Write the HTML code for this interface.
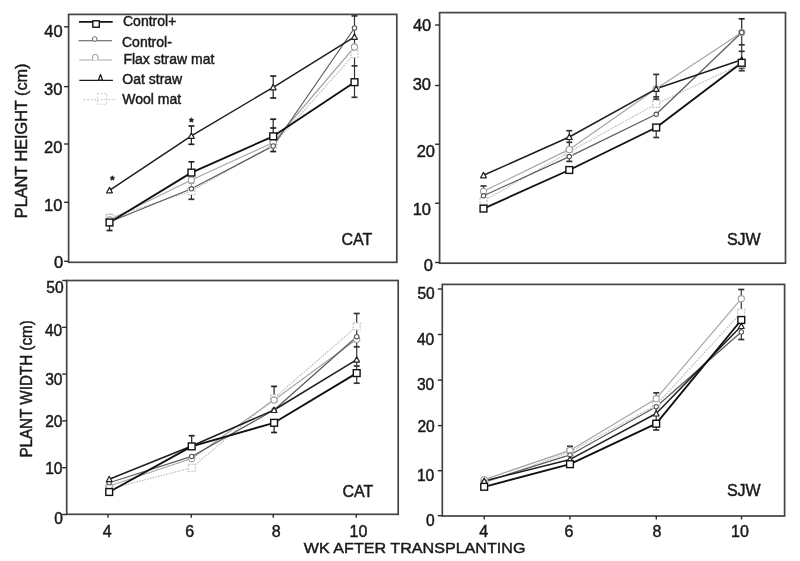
<!DOCTYPE html><html><head><meta charset="utf-8"><title>Plant height and width</title><style>html,body{margin:0;padding:0;background:#fff;}svg{display:block;} text{stroke:#1a1a1a;stroke-width:0.45px;}</style></head><body>
<svg width="800" height="561" viewBox="0 0 800 561" font-family='"Liberation Sans", Arial, Helvetica, sans-serif' fill="#1a1a1a">
<rect x="0" y="0" width="800" height="561" fill="#fff"/>
<g><polyline points="109.5,218.0 191.4,191.0 273.2,145.0 354.5,54.0" fill="none" stroke="#bdbdbd" stroke-width="1.2" stroke-dasharray="1.6,1.2" stroke-linejoin="round"/><polyline points="109.5,220.0 191.4,180.0 273.2,142.5 354.5,47.0" fill="none" stroke="#a6a6a6" stroke-width="1.2" stroke-linejoin="round"/><polyline points="109.5,222.0 191.4,188.8 273.2,146.0 354.5,28.0" fill="none" stroke="#5a5a5a" stroke-width="1.2" stroke-linejoin="round"/><polyline points="109.5,190.3 191.4,135.8 273.2,87.3 354.5,36.8" fill="none" stroke="#1e1e1e" stroke-width="1.5" stroke-linejoin="round"/><polyline points="109.5,222.5 191.4,172.6 273.2,136.3 354.5,82.2" fill="none" stroke="#111111" stroke-width="1.9" stroke-linejoin="round"/><line x1="109.5" y1="222.5" x2="109.5" y2="230.5" stroke="#222" stroke-width="1.2"/><line x1="106.5" y1="230.5" x2="112.5" y2="230.5" stroke="#222" stroke-width="1.7"/><line x1="109.5" y1="214.5" x2="109.5" y2="218.0" stroke="#bbb" stroke-width="1.2"/><line x1="106.5" y1="214.5" x2="112.5" y2="214.5" stroke="#bbb" stroke-width="1.7"/><line x1="191.4" y1="126.0" x2="191.4" y2="144.3" stroke="#222" stroke-width="1.2"/><line x1="188.4" y1="126.0" x2="194.4" y2="126.0" stroke="#222" stroke-width="1.7"/><line x1="188.4" y1="144.3" x2="194.4" y2="144.3" stroke="#222" stroke-width="1.7"/><line x1="191.4" y1="161.8" x2="191.4" y2="172.5" stroke="#222" stroke-width="1.2"/><line x1="188.4" y1="161.8" x2="194.4" y2="161.8" stroke="#222" stroke-width="1.7"/><line x1="191.4" y1="183.2" x2="191.4" y2="186.0" stroke="#aaa" stroke-width="1.2"/><line x1="188.4" y1="183.2" x2="194.4" y2="183.2" stroke="#aaa" stroke-width="1.7"/><line x1="191.4" y1="190.0" x2="191.4" y2="199.3" stroke="#333" stroke-width="1.2"/><line x1="188.4" y1="199.3" x2="194.4" y2="199.3" stroke="#333" stroke-width="1.7"/><line x1="273.2" y1="76.0" x2="273.2" y2="98.0" stroke="#222" stroke-width="1.2"/><line x1="270.2" y1="76.0" x2="276.2" y2="76.0" stroke="#222" stroke-width="1.7"/><line x1="270.2" y1="98.0" x2="276.2" y2="98.0" stroke="#222" stroke-width="1.7"/><line x1="273.2" y1="119.2" x2="273.2" y2="136.2" stroke="#222" stroke-width="1.2"/><line x1="270.2" y1="119.2" x2="276.2" y2="119.2" stroke="#222" stroke-width="1.7"/><line x1="270.2" y1="128.0" x2="276.2" y2="128.0" stroke="#222" stroke-width="1.7"/><line x1="273.2" y1="146.0" x2="273.2" y2="152.3" stroke="#222" stroke-width="1.2"/><line x1="270.2" y1="151.5" x2="276.2" y2="151.5" stroke="#222" stroke-width="1.7"/><line x1="354.5" y1="15.9" x2="354.5" y2="97.3" stroke="#333" stroke-width="1.2"/><line x1="351.5" y1="15.9" x2="357.5" y2="15.9" stroke="#333" stroke-width="1.7"/><line x1="351.5" y1="56.1" x2="357.5" y2="56.1" stroke="#333" stroke-width="1.7"/><line x1="351.5" y1="65.9" x2="357.5" y2="65.9" stroke="#333" stroke-width="1.7"/><line x1="351.5" y1="97.3" x2="357.5" y2="97.3" stroke="#333" stroke-width="1.7"/><rect x="106.0" y="214.5" width="7" height="7" fill="#fff" stroke="#c0c0c0" stroke-width="1.1" stroke-dasharray="2,1.2"/><rect x="187.9" y="187.5" width="7" height="7" fill="#fff" stroke="#c0c0c0" stroke-width="1.1" stroke-dasharray="2,1.2"/><rect x="269.7" y="141.5" width="7" height="7" fill="#fff" stroke="#c0c0c0" stroke-width="1.1" stroke-dasharray="2,1.2"/><rect x="351.0" y="50.5" width="7" height="7" fill="#fff" stroke="#c0c0c0" stroke-width="1.1" stroke-dasharray="2,1.2"/><circle cx="109.5" cy="220.0" r="3.1" fill="#fff" stroke="#a0a0a0" stroke-width="1.1"/><circle cx="191.4" cy="180.0" r="3.1" fill="#fff" stroke="#a0a0a0" stroke-width="1.1"/><circle cx="273.2" cy="142.5" r="3.1" fill="#fff" stroke="#a0a0a0" stroke-width="1.1"/><circle cx="354.5" cy="47.0" r="3.1" fill="#fff" stroke="#a0a0a0" stroke-width="1.1"/><circle cx="109.5" cy="222.0" r="2.2" fill="#fff" stroke="#555" stroke-width="1.1"/><circle cx="191.4" cy="188.8" r="2.2" fill="#fff" stroke="#555" stroke-width="1.1"/><circle cx="273.2" cy="146.0" r="2.2" fill="#fff" stroke="#555" stroke-width="1.1"/><circle cx="354.5" cy="28.0" r="2.2" fill="#fff" stroke="#555" stroke-width="1.1"/><path d="M109.5,187.4 L112.4,192.8 L106.6,192.8 Z" fill="#fff" stroke="#222" stroke-width="1.2" stroke-linejoin="round"/><path d="M191.4,132.9 L194.3,138.3 L188.5,138.3 Z" fill="#fff" stroke="#222" stroke-width="1.2" stroke-linejoin="round"/><path d="M273.2,84.4 L276.1,89.8 L270.3,89.8 Z" fill="#fff" stroke="#222" stroke-width="1.2" stroke-linejoin="round"/><path d="M354.5,33.9 L357.4,39.3 L351.6,39.3 Z" fill="#fff" stroke="#222" stroke-width="1.2" stroke-linejoin="round"/><rect x="106.1" y="219.1" width="6.8" height="6.8" fill="#fff" stroke="#111" stroke-width="1.4"/><rect x="188.0" y="169.2" width="6.8" height="6.8" fill="#fff" stroke="#111" stroke-width="1.4"/><rect x="269.8" y="132.9" width="6.8" height="6.8" fill="#fff" stroke="#111" stroke-width="1.4"/><rect x="351.1" y="78.8" width="6.8" height="6.8" fill="#fff" stroke="#111" stroke-width="1.4"/><rect x="68.6" y="14.4" width="328.2" height="247.9" fill="none" stroke="#444" stroke-width="1.7"/><line x1="64.1" y1="26.8" x2="68.6" y2="26.8" stroke="#2a2a2a" stroke-width="1.4"/><text x="62.7" y="36.9" font-size="16.5" text-anchor="end">40</text><line x1="64.1" y1="86.6" x2="68.6" y2="86.6" stroke="#2a2a2a" stroke-width="1.4"/><text x="62.4" y="95.4" font-size="16.5" text-anchor="end">30</text><line x1="64.1" y1="144.0" x2="68.6" y2="144.0" stroke="#2a2a2a" stroke-width="1.4"/><text x="62.4" y="152.9" font-size="16.5" text-anchor="end">20</text><line x1="64.1" y1="202.3" x2="68.6" y2="202.3" stroke="#2a2a2a" stroke-width="1.4"/><text x="62.4" y="211.2" font-size="16.5" text-anchor="end">10</text><line x1="64.1" y1="261.3" x2="68.6" y2="261.3" stroke="#2a2a2a" stroke-width="1.4"/><text x="63.1" y="267.5" font-size="16.5" text-anchor="end">0</text><text x="341.5" y="245.0" font-size="16">CAT</text><text x="112.4" y="184.4" font-size="11" font-weight="bold" text-anchor="middle">*</text><text x="191.4" y="126.4" font-size="11" font-weight="bold" text-anchor="middle">*</text></g>
<g><polyline points="483.5,201.0 569.3,152.0 656.2,103.9 741.7,64.0" fill="none" stroke="#bdbdbd" stroke-width="1.2" stroke-dasharray="1.6,1.2" stroke-linejoin="round"/><polyline points="483.5,191.3 569.3,149.4 656.2,88.8 741.7,32.5" fill="none" stroke="#a6a6a6" stroke-width="1.2" stroke-linejoin="round"/><polyline points="483.5,195.8 569.3,156.6 656.2,114.3 741.7,32.5" fill="none" stroke="#5a5a5a" stroke-width="1.2" stroke-linejoin="round"/><polyline points="483.5,175.3 569.3,137.0 656.2,88.8 741.7,59.8" fill="none" stroke="#1e1e1e" stroke-width="1.5" stroke-linejoin="round"/><polyline points="483.5,208.6 569.3,170.0 656.2,127.5 741.7,62.8" fill="none" stroke="#111111" stroke-width="1.9" stroke-linejoin="round"/><line x1="483.5" y1="186.0" x2="483.5" y2="191.0" stroke="#333" stroke-width="1.2"/><line x1="480.5" y1="186.0" x2="486.5" y2="186.0" stroke="#333" stroke-width="1.7"/><line x1="569.3" y1="130.7" x2="569.3" y2="137.0" stroke="#333" stroke-width="1.2"/><line x1="566.3" y1="130.7" x2="572.3" y2="130.7" stroke="#333" stroke-width="1.7"/><line x1="569.3" y1="137.0" x2="569.3" y2="161.4" stroke="#333" stroke-width="1.2"/><line x1="566.3" y1="142.3" x2="572.3" y2="142.3" stroke="#333" stroke-width="1.7"/><line x1="566.3" y1="161.4" x2="572.3" y2="161.4" stroke="#333" stroke-width="1.7"/><line x1="656.2" y1="74.4" x2="656.2" y2="88.8" stroke="#333" stroke-width="1.2"/><line x1="653.2" y1="74.4" x2="659.2" y2="74.4" stroke="#333" stroke-width="1.7"/><line x1="656.2" y1="88.8" x2="656.2" y2="100.0" stroke="#333" stroke-width="1.2"/><line x1="653.2" y1="96.9" x2="659.2" y2="96.9" stroke="#333" stroke-width="1.7"/><line x1="653.2" y1="99.2" x2="659.2" y2="99.2" stroke="#333" stroke-width="1.7"/><line x1="656.2" y1="127.5" x2="656.2" y2="137.5" stroke="#333" stroke-width="1.2"/><line x1="653.2" y1="137.5" x2="659.2" y2="137.5" stroke="#333" stroke-width="1.7"/><line x1="741.7" y1="18.8" x2="741.7" y2="32.5" stroke="#222" stroke-width="1.2"/><line x1="738.7" y1="18.8" x2="744.7" y2="18.8" stroke="#222" stroke-width="1.7"/><line x1="741.7" y1="32.5" x2="741.7" y2="70.7" stroke="#333" stroke-width="1.2"/><line x1="738.7" y1="44.8" x2="744.7" y2="44.8" stroke="#333" stroke-width="1.7"/><line x1="738.7" y1="51.3" x2="744.7" y2="51.3" stroke="#333" stroke-width="1.7"/><line x1="738.7" y1="68.0" x2="744.7" y2="68.0" stroke="#333" stroke-width="1.7"/><line x1="738.7" y1="70.7" x2="744.7" y2="70.7" stroke="#333" stroke-width="1.7"/><rect x="480.0" y="197.5" width="7" height="7" fill="#fff" stroke="#c0c0c0" stroke-width="1.1" stroke-dasharray="2,1.2"/><rect x="565.8" y="148.5" width="7" height="7" fill="#fff" stroke="#c0c0c0" stroke-width="1.1" stroke-dasharray="2,1.2"/><rect x="652.7" y="100.4" width="7" height="7" fill="#fff" stroke="#c0c0c0" stroke-width="1.1" stroke-dasharray="2,1.2"/><rect x="738.2" y="60.5" width="7" height="7" fill="#fff" stroke="#c0c0c0" stroke-width="1.1" stroke-dasharray="2,1.2"/><circle cx="483.5" cy="191.3" r="3.1" fill="#fff" stroke="#a0a0a0" stroke-width="1.1"/><circle cx="569.3" cy="149.4" r="3.1" fill="#fff" stroke="#a0a0a0" stroke-width="1.1"/><circle cx="656.2" cy="88.8" r="3.1" fill="#fff" stroke="#a0a0a0" stroke-width="1.1"/><circle cx="741.7" cy="32.5" r="3.1" fill="#fff" stroke="#a0a0a0" stroke-width="1.1"/><circle cx="483.5" cy="195.8" r="2.2" fill="#fff" stroke="#555" stroke-width="1.1"/><circle cx="569.3" cy="156.6" r="2.2" fill="#fff" stroke="#555" stroke-width="1.1"/><circle cx="656.2" cy="114.3" r="2.2" fill="#fff" stroke="#555" stroke-width="1.1"/><circle cx="741.7" cy="32.5" r="2.2" fill="#fff" stroke="#555" stroke-width="1.1"/><path d="M483.5,172.4 L486.4,177.8 L480.6,177.8 Z" fill="#fff" stroke="#222" stroke-width="1.2" stroke-linejoin="round"/><path d="M569.3,134.1 L572.2,139.5 L566.4,139.5 Z" fill="#fff" stroke="#222" stroke-width="1.2" stroke-linejoin="round"/><path d="M656.2,85.9 L659.1,91.3 L653.3,91.3 Z" fill="#fff" stroke="#222" stroke-width="1.2" stroke-linejoin="round"/><path d="M741.7,56.9 L744.6,62.3 L738.8,62.3 Z" fill="#fff" stroke="#222" stroke-width="1.2" stroke-linejoin="round"/><rect x="480.1" y="205.2" width="6.8" height="6.8" fill="#fff" stroke="#111" stroke-width="1.4"/><rect x="565.9" y="166.6" width="6.8" height="6.8" fill="#fff" stroke="#111" stroke-width="1.4"/><rect x="652.8" y="124.1" width="6.8" height="6.8" fill="#fff" stroke="#111" stroke-width="1.4"/><rect x="738.3" y="59.4" width="6.8" height="6.8" fill="#fff" stroke="#111" stroke-width="1.4"/><rect x="439.6" y="12.6" width="345.9" height="250.6" fill="none" stroke="#444" stroke-width="1.7"/><line x1="435.1" y1="25.0" x2="439.6" y2="25.0" stroke="#2a2a2a" stroke-width="1.4"/><text x="431.3" y="30.5" font-size="16.5" text-anchor="end">40</text><line x1="435.1" y1="85.5" x2="439.6" y2="85.5" stroke="#2a2a2a" stroke-width="1.4"/><text x="431.0" y="90.0" font-size="16.5" text-anchor="end">30</text><line x1="435.1" y1="144.25" x2="439.6" y2="144.25" stroke="#2a2a2a" stroke-width="1.4"/><text x="435.0" y="157.0" font-size="16.5" text-anchor="end">20</text><line x1="435.1" y1="203.25" x2="439.6" y2="203.25" stroke="#2a2a2a" stroke-width="1.4"/><text x="431.0" y="215.0" font-size="16.5" text-anchor="end">10</text><line x1="435.1" y1="262.5" x2="439.6" y2="262.5" stroke="#2a2a2a" stroke-width="1.4"/><text x="433.0" y="271.0" font-size="16.5" text-anchor="end">0</text><text x="726.9" y="245.0" font-size="16">SJW</text></g>
<g><polyline points="109.2,489.0 191.7,467.8 274.1,398.2 356.7,326.4" fill="none" stroke="#bdbdbd" stroke-width="1.2" stroke-dasharray="1.6,1.2" stroke-linejoin="round"/><polyline points="109.2,486.0 191.7,458.5 274.1,400.0 356.7,339.3" fill="none" stroke="#a6a6a6" stroke-width="1.2" stroke-linejoin="round"/><polyline points="109.2,482.8 191.7,456.4 274.1,410.0 356.7,336.7" fill="none" stroke="#5a5a5a" stroke-width="1.2" stroke-linejoin="round"/><polyline points="109.2,479.2 191.7,446.0 274.1,410.0 356.7,359.6" fill="none" stroke="#1e1e1e" stroke-width="1.5" stroke-linejoin="round"/><polyline points="109.2,492.0 191.7,446.4 274.1,422.8 356.7,373.1" fill="none" stroke="#111111" stroke-width="1.9" stroke-linejoin="round"/><line x1="191.7" y1="435.7" x2="191.7" y2="446.4" stroke="#222" stroke-width="1.2"/><line x1="188.7" y1="435.7" x2="194.7" y2="435.7" stroke="#222" stroke-width="1.7"/><line x1="274.1" y1="386.4" x2="274.1" y2="398.2" stroke="#222" stroke-width="1.2"/><line x1="271.1" y1="386.4" x2="277.1" y2="386.4" stroke="#222" stroke-width="1.7"/><line x1="274.1" y1="422.8" x2="274.1" y2="432.5" stroke="#222" stroke-width="1.2"/><line x1="271.1" y1="432.5" x2="277.1" y2="432.5" stroke="#222" stroke-width="1.7"/><line x1="356.7" y1="313.5" x2="356.7" y2="383.2" stroke="#333" stroke-width="1.2"/><line x1="353.7" y1="313.5" x2="359.7" y2="313.5" stroke="#333" stroke-width="1.7"/><line x1="353.7" y1="346.8" x2="359.7" y2="346.8" stroke="#333" stroke-width="1.7"/><line x1="353.7" y1="366.0" x2="359.7" y2="366.0" stroke="#333" stroke-width="1.7"/><line x1="353.7" y1="383.2" x2="359.7" y2="383.2" stroke="#333" stroke-width="1.7"/><rect x="105.7" y="485.5" width="7" height="7" fill="#fff" stroke="#c0c0c0" stroke-width="1.1" stroke-dasharray="2,1.2"/><rect x="188.2" y="464.3" width="7" height="7" fill="#fff" stroke="#c0c0c0" stroke-width="1.1" stroke-dasharray="2,1.2"/><rect x="270.6" y="394.7" width="7" height="7" fill="#fff" stroke="#c0c0c0" stroke-width="1.1" stroke-dasharray="2,1.2"/><rect x="353.2" y="322.9" width="7" height="7" fill="#fff" stroke="#c0c0c0" stroke-width="1.1" stroke-dasharray="2,1.2"/><circle cx="109.2" cy="486.0" r="3.1" fill="#fff" stroke="#a0a0a0" stroke-width="1.1"/><circle cx="191.7" cy="458.5" r="3.1" fill="#fff" stroke="#a0a0a0" stroke-width="1.1"/><circle cx="274.1" cy="400.0" r="3.1" fill="#fff" stroke="#a0a0a0" stroke-width="1.1"/><circle cx="356.7" cy="339.3" r="3.1" fill="#fff" stroke="#a0a0a0" stroke-width="1.1"/><circle cx="109.2" cy="482.8" r="2.2" fill="#fff" stroke="#555" stroke-width="1.1"/><circle cx="191.7" cy="456.4" r="2.2" fill="#fff" stroke="#555" stroke-width="1.1"/><circle cx="274.1" cy="410.0" r="2.2" fill="#fff" stroke="#555" stroke-width="1.1"/><circle cx="356.7" cy="336.7" r="2.2" fill="#fff" stroke="#555" stroke-width="1.1"/><path d="M109.2,476.3 L112.1,481.7 L106.3,481.7 Z" fill="#fff" stroke="#222" stroke-width="1.2" stroke-linejoin="round"/><path d="M191.7,443.1 L194.6,448.5 L188.8,448.5 Z" fill="#fff" stroke="#222" stroke-width="1.2" stroke-linejoin="round"/><path d="M274.1,407.1 L277.0,412.5 L271.2,412.5 Z" fill="#fff" stroke="#222" stroke-width="1.2" stroke-linejoin="round"/><path d="M356.7,356.7 L359.6,362.1 L353.8,362.1 Z" fill="#fff" stroke="#222" stroke-width="1.2" stroke-linejoin="round"/><rect x="105.8" y="488.6" width="6.8" height="6.8" fill="#fff" stroke="#111" stroke-width="1.4"/><rect x="188.3" y="443.0" width="6.8" height="6.8" fill="#fff" stroke="#111" stroke-width="1.4"/><rect x="270.7" y="419.4" width="6.8" height="6.8" fill="#fff" stroke="#111" stroke-width="1.4"/><rect x="353.3" y="369.7" width="6.8" height="6.8" fill="#fff" stroke="#111" stroke-width="1.4"/><rect x="66.7" y="280.5" width="331.5" height="233.8" fill="none" stroke="#444" stroke-width="1.7"/><line x1="62.2" y1="280.5" x2="66.7" y2="280.5" stroke="#2a2a2a" stroke-width="1.4"/><text x="63.6" y="292.7" font-size="15.6" text-anchor="end">50</text><line x1="62.2" y1="327.3" x2="66.7" y2="327.3" stroke="#2a2a2a" stroke-width="1.4"/><text x="62.3" y="335.6" font-size="15.6" text-anchor="end">40</text><line x1="62.2" y1="374.1" x2="66.7" y2="374.1" stroke="#2a2a2a" stroke-width="1.4"/><text x="62.5" y="384.8" font-size="15.6" text-anchor="end">30</text><line x1="62.2" y1="420.9" x2="66.7" y2="420.9" stroke="#2a2a2a" stroke-width="1.4"/><text x="62.5" y="427.1" font-size="15.6" text-anchor="end">20</text><line x1="62.2" y1="467.7" x2="66.7" y2="467.7" stroke="#2a2a2a" stroke-width="1.4"/><text x="62.5" y="473.5" font-size="15.6" text-anchor="end">10</text><line x1="62.2" y1="514.5" x2="66.7" y2="514.5" stroke="#2a2a2a" stroke-width="1.4"/><text x="63.0" y="523.8" font-size="15.6" text-anchor="end">0</text><line x1="108.0" y1="514.3" x2="108.0" y2="517.8" stroke="#2a2a2a" stroke-width="1.4"/><text x="107.3" y="537" font-size="16" text-anchor="middle">4</text><line x1="191.25" y1="514.3" x2="191.25" y2="517.8" stroke="#2a2a2a" stroke-width="1.4"/><text x="189.8" y="537" font-size="16" text-anchor="middle">6</text><line x1="273.25" y1="514.3" x2="273.25" y2="517.8" stroke="#2a2a2a" stroke-width="1.4"/><text x="276.3" y="537" font-size="16" text-anchor="middle">8</text><line x1="356.25" y1="514.3" x2="356.25" y2="517.8" stroke="#2a2a2a" stroke-width="1.4"/><text x="358.5" y="537" font-size="16" text-anchor="middle">10</text><text x="342.4" y="496.7" font-size="16">CAT</text></g>
<g><polyline points="484.2,483.0 570.0,452.0 656.2,405.0 741.3,312.5" fill="none" stroke="#bdbdbd" stroke-width="1.2" stroke-dasharray="1.6,1.2" stroke-linejoin="round"/><polyline points="484.2,479.6 570.0,450.4 656.2,398.7 741.3,298.7" fill="none" stroke="#a6a6a6" stroke-width="1.2" stroke-linejoin="round"/><polyline points="484.2,482.0 570.0,454.9 656.2,406.7 741.3,332.0" fill="none" stroke="#5a5a5a" stroke-width="1.2" stroke-linejoin="round"/><polyline points="484.2,481.0 570.0,459.4 656.2,413.5 741.3,326.0" fill="none" stroke="#1e1e1e" stroke-width="1.5" stroke-linejoin="round"/><polyline points="484.2,486.8 570.0,464.2 656.2,423.7 741.3,320.0" fill="none" stroke="#111111" stroke-width="1.9" stroke-linejoin="round"/><line x1="570.0" y1="446.3" x2="570.0" y2="450.4" stroke="#333" stroke-width="1.2"/><line x1="567.0" y1="446.3" x2="573.0" y2="446.3" stroke="#333" stroke-width="1.7"/><line x1="656.2" y1="392.8" x2="656.2" y2="398.7" stroke="#333" stroke-width="1.2"/><line x1="653.2" y1="392.8" x2="659.2" y2="392.8" stroke="#333" stroke-width="1.7"/><line x1="656.2" y1="398.7" x2="656.2" y2="430.0" stroke="#333" stroke-width="1.2"/><line x1="653.2" y1="406.7" x2="659.2" y2="406.7" stroke="#333" stroke-width="1.7"/><line x1="653.2" y1="430.0" x2="659.2" y2="430.0" stroke="#333" stroke-width="1.7"/><line x1="741.3" y1="289.5" x2="741.3" y2="298.7" stroke="#333" stroke-width="1.2"/><line x1="738.3" y1="289.5" x2="744.3" y2="289.5" stroke="#333" stroke-width="1.7"/><line x1="741.3" y1="298.7" x2="741.3" y2="339.5" stroke="#333" stroke-width="1.2"/><line x1="738.3" y1="339.5" x2="744.3" y2="339.5" stroke="#333" stroke-width="1.7"/><rect x="480.7" y="479.5" width="7" height="7" fill="#fff" stroke="#c0c0c0" stroke-width="1.1" stroke-dasharray="2,1.2"/><rect x="566.5" y="448.5" width="7" height="7" fill="#fff" stroke="#c0c0c0" stroke-width="1.1" stroke-dasharray="2,1.2"/><rect x="652.7" y="401.5" width="7" height="7" fill="#fff" stroke="#c0c0c0" stroke-width="1.1" stroke-dasharray="2,1.2"/><rect x="737.8" y="309.0" width="7" height="7" fill="#fff" stroke="#c0c0c0" stroke-width="1.1" stroke-dasharray="2,1.2"/><circle cx="484.2" cy="479.6" r="3.1" fill="#fff" stroke="#a0a0a0" stroke-width="1.1"/><circle cx="570.0" cy="450.4" r="3.1" fill="#fff" stroke="#a0a0a0" stroke-width="1.1"/><circle cx="656.2" cy="398.7" r="3.1" fill="#fff" stroke="#a0a0a0" stroke-width="1.1"/><circle cx="741.3" cy="298.7" r="3.1" fill="#fff" stroke="#a0a0a0" stroke-width="1.1"/><circle cx="484.2" cy="482.0" r="2.2" fill="#fff" stroke="#555" stroke-width="1.1"/><circle cx="570.0" cy="454.9" r="2.2" fill="#fff" stroke="#555" stroke-width="1.1"/><circle cx="656.2" cy="406.7" r="2.2" fill="#fff" stroke="#555" stroke-width="1.1"/><circle cx="741.3" cy="332.0" r="2.2" fill="#fff" stroke="#555" stroke-width="1.1"/><path d="M484.2,478.1 L487.1,483.5 L481.3,483.5 Z" fill="#fff" stroke="#222" stroke-width="1.2" stroke-linejoin="round"/><path d="M570.0,456.5 L572.9,461.9 L567.1,461.9 Z" fill="#fff" stroke="#222" stroke-width="1.2" stroke-linejoin="round"/><path d="M656.2,410.6 L659.1,416.0 L653.3,416.0 Z" fill="#fff" stroke="#222" stroke-width="1.2" stroke-linejoin="round"/><path d="M741.3,323.1 L744.2,328.5 L738.4,328.5 Z" fill="#fff" stroke="#222" stroke-width="1.2" stroke-linejoin="round"/><rect x="480.8" y="483.4" width="6.8" height="6.8" fill="#fff" stroke="#111" stroke-width="1.4"/><rect x="566.6" y="460.8" width="6.8" height="6.8" fill="#fff" stroke="#111" stroke-width="1.4"/><rect x="652.8" y="420.3" width="6.8" height="6.8" fill="#fff" stroke="#111" stroke-width="1.4"/><rect x="737.9" y="316.6" width="6.8" height="6.8" fill="#fff" stroke="#111" stroke-width="1.4"/><rect x="442.3" y="284.4" width="342.3" height="231.6" fill="none" stroke="#444" stroke-width="1.7"/><line x1="437.8" y1="289.0" x2="442.3" y2="289.0" stroke="#2a2a2a" stroke-width="1.4"/><text x="434.8" y="299.0" font-size="15.6" text-anchor="end">50</text><line x1="437.8" y1="334.5" x2="442.3" y2="334.5" stroke="#2a2a2a" stroke-width="1.4"/><text x="434.3" y="344.7" font-size="15.6" text-anchor="end">40</text><line x1="437.8" y1="380.1" x2="442.3" y2="380.1" stroke="#2a2a2a" stroke-width="1.4"/><text x="434.3" y="390.0" font-size="15.6" text-anchor="end">30</text><line x1="437.8" y1="425.6" x2="442.3" y2="425.6" stroke="#2a2a2a" stroke-width="1.4"/><text x="434.8" y="432.2" font-size="15.6" text-anchor="end">20</text><line x1="437.8" y1="470.7" x2="442.3" y2="470.7" stroke="#2a2a2a" stroke-width="1.4"/><text x="434.3" y="481.4" font-size="15.6" text-anchor="end">10</text><line x1="437.8" y1="515.7" x2="442.3" y2="515.7" stroke="#2a2a2a" stroke-width="1.4"/><text x="434.8" y="525.8" font-size="15.6" text-anchor="end">0</text><line x1="484.2" y1="516.0" x2="484.2" y2="519.5" stroke="#2a2a2a" stroke-width="1.4"/><text x="483.7" y="537" font-size="16" text-anchor="middle">4</text><line x1="569.9" y1="516.0" x2="569.9" y2="519.5" stroke="#2a2a2a" stroke-width="1.4"/><text x="569.0" y="537" font-size="16" text-anchor="middle">6</text><line x1="656.3" y1="516.0" x2="656.3" y2="519.5" stroke="#2a2a2a" stroke-width="1.4"/><text x="657.0" y="537" font-size="16" text-anchor="middle">8</text><line x1="741.5" y1="516.0" x2="741.5" y2="519.5" stroke="#2a2a2a" stroke-width="1.4"/><text x="739.9" y="537" font-size="16" text-anchor="middle">10</text><text x="726.9" y="495.7" font-size="16">SJW</text></g>
<g><line x1="79" y1="21.8" x2="112.7" y2="21.8" stroke="#151515" stroke-width="1.7"/><rect x="92.8" y="20.8" width="6.5" height="6.4" fill="#fff" stroke="#111" stroke-width="1.4"/><text x="123" y="26.2" font-size="14">Control+</text><line x1="78.5" y1="40.8" x2="112" y2="40.8" stroke="#555" stroke-width="1.1"/><circle cx="94.7" cy="39" r="2.3" fill="#fff" stroke="#666" stroke-width="1"/><text x="122" y="46.5" font-size="14">Control-</text><line x1="79.3" y1="60" x2="112" y2="60" stroke="#aaa" stroke-width="1"/><path d="M92.6,60 v-3 a2.7,2.7 0 0 1 5.4,0 v3" fill="#fff" stroke="#999" stroke-width="1"/><text x="123.4" y="64" font-size="14">Flax straw mat</text><line x1="79.3" y1="80.4" x2="112.9" y2="80.4" stroke="#1a1a1a" stroke-width="1.3"/><path d="M100.5,74.5 L102.6,80.2 L98.4,80.2 Z" fill="#fff" stroke="#1a1a1a" stroke-width="1.2" stroke-linejoin="round"/><text x="122.3" y="84.3" font-size="14">Oat straw</text><line x1="83.5" y1="99.7" x2="116" y2="99.7" stroke="#c4c4c4" stroke-width="1" stroke-dasharray="2,1.5"/><rect x="97.3" y="93.6" width="9.4" height="10.6" fill="none" stroke="#cdcdcd" stroke-width="1" stroke-dasharray="2,1.5"/><text x="122.3" y="103.5" font-size="14">Wool mat</text></g>
<text transform="translate(27,218.2) rotate(-90) scale(1.03,1)" font-size="15.8">PLANT HEIGHT (cm)</text>
<text transform="translate(32.4,457.6) rotate(-90) scale(0.962,1)" font-size="15.8">PLANT WIDTH (cm)</text>
<text transform="translate(303.8,553.1) scale(1.06,1)" font-size="15.2">WK AFTER TRANSPLANTING</text>
</svg></body></html>
